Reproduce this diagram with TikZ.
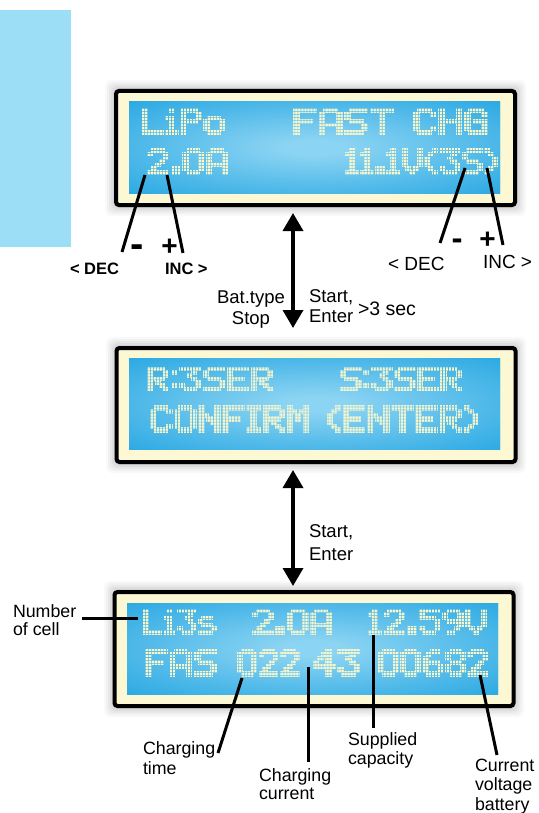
\documentclass[tikz,border=0pt]{standalone}
\usepackage{fontspec}
\setmainfont{Liberation Sans}
\usepackage{graphicx}
\usetikzlibrary{arrows.meta}
\definecolor{sidebar}{RGB}{155,222,246}
\definecolor{cream}{RGB}{253,248,212}
\definecolor{lcdedge}{RGB}{14,156,222}
\definecolor{lcdmid}{RGB}{140,212,243}
\definecolor{lcdpixc}{RGB}{250,247,204}
\pgfdeclareradialshading{lcdshade}{\pgfpoint{0bp}{0bp}}{color(0bp)=(lcdmid); color(4bp)=(lcdmid); color(22bp)=(lcdmid!55!lcdedge); color(46bp)=(lcdedge); color(80bp)=(lcdedge)}
% ---------- dot-matrix glyph machinery ----------
\newcount\lcdx
\newcount\lcdc
\newcount\lcdtot
\def\lcdscan#1{%
  \ifx#1\relax
  \else
    \if1#1\fill[lcdpix] ({\the\lcdx+\the\lcdc-0.3},{\lcdy-0.2}) rectangle ++(1.6,1.4);\fi
    \advance\lcdc by 1
    \expandafter\lcdscan
  \fi}
\def\lcdrow#1#2{\def\lcdy{#1}\lcdc=0 \lcdscan#2\relax}
\def\lcdrows#1#2#3#4#5#6#7{\lcdrow{0}{#1}\lcdrow{1}{#2}\lcdrow{2}{#3}\lcdrow{3}{#4}\lcdrow{4}{#5}\lcdrow{5}{#6}\lcdrow{6}{#7}}
\def\lcddef#1#2#3#4#5#6#7#8#9{%
  \expandafter\def\csname lcdW-#1\endcsname{#2}%
  \expandafter\def\csname lcdG-#1\endcsname{\lcdrows{#3}{#4}{#5}{#6}{#7}{#8}{#9}}}
\lcddef{L}{5}{10000}{10000}{10000}{10000}{10000}{10000}{11111}
\lcddef{i}{3}{010}{000}{110}{010}{010}{010}{111}
\lcddef{P}{5}{11110}{10001}{10001}{11110}{10000}{10000}{10000}
\lcddef{o}{5}{00000}{00000}{01110}{10001}{10001}{10001}{01110}
\lcddef{F}{5}{11111}{10000}{10000}{11110}{10000}{10000}{10000}
\lcddef{A}{5}{01110}{10001}{10001}{10001}{11111}{10001}{10001}
\lcddef{S}{5}{01111}{10000}{10000}{01110}{00001}{00001}{11110}
\lcddef{T}{5}{11111}{00100}{00100}{00100}{00100}{00100}{00100}
\lcddef{C}{5}{01110}{10001}{10000}{10000}{10000}{10001}{01110}
\lcddef{H}{5}{10001}{10001}{10001}{11111}{10001}{10001}{10001}
\lcddef{G}{5}{01110}{10001}{10000}{10111}{10001}{10001}{01111}
\lcddef{2}{5}{01110}{10001}{00001}{00010}{00100}{01000}{11111}
\lcddef{dot}{2}{00}{00}{00}{00}{00}{11}{11}
\lcddef{0}{5}{01110}{10001}{10001}{10001}{10001}{10001}{01110}
\lcddef{1}{3}{010}{110}{010}{010}{010}{010}{111}
\lcddef{V}{5}{10001}{10001}{10001}{10001}{10001}{01010}{00100}
\lcddef{lp}{3}{001}{010}{100}{100}{100}{010}{001}
\lcddef{rp}{3}{100}{010}{001}{001}{001}{010}{100}
\lcddef{3}{5}{11111}{00010}{00100}{00010}{00001}{10001}{01110}
\lcddef{R}{5}{11110}{10001}{10001}{11110}{10100}{10010}{10001}
\lcddef{col}{1}{0}{1}{0}{0}{0}{1}{0}
\lcddef{E}{5}{11111}{10000}{10000}{11110}{10000}{10000}{11111}
\lcddef{N}{5}{10001}{10001}{11001}{10101}{10011}{10001}{10001}
\lcddef{O}{5}{01110}{10001}{10001}{10001}{10001}{10001}{01110}
\lcddef{I}{3}{111}{010}{010}{010}{010}{010}{111}
\lcddef{M}{5}{10001}{11011}{10101}{10101}{10001}{10001}{10001}
\lcddef{s}{5}{00000}{00000}{01110}{10000}{01110}{00001}{11110}
\lcddef{5}{5}{11111}{10000}{11110}{00001}{00001}{10001}{01110}
\lcddef{9}{5}{01110}{10001}{10001}{01111}{00001}{00010}{01100}
\lcddef{4}{5}{00010}{00110}{01010}{10010}{11111}{00010}{00010}
\lcddef{6}{5}{00110}{01000}{10000}{11110}{10001}{10001}{01110}
\lcddef{8}{5}{01110}{10001}{10001}{01110}{10001}{10001}{01110}
\lcddef{sp}{3}{000}{000}{000}{000}{000}{000}{000}
% \lcdtext{left}{top}{width}{height}{glyph list}
\newcommand\lcdtext[5]{%
  \global\lcdtot=0
  \foreach \ch in {#5}{\global\advance\lcdtot by \csname lcdW-\ch\endcsname\relax\global\advance\lcdtot by 1\relax}%
  \global\advance\lcdtot by -1\relax
  \pgfmathsetmacro\lcddx{(#3-2.4)/\the\lcdtot}%
  \pgfmathsetmacro\lcddy{(#4-2.4)/7}%
  \begin{scope}[shift={(#1+1.2,#2+1.2)},x={(\lcddx pt,0pt)},y={(0pt,-\lcddy pt)}]
    \global\lcdx=0
    \foreach \ch in {#5}{\csname lcdG-\ch\endcsname\global\advance\lcdx by \csname lcdW-\ch\endcsname\relax\global\advance\lcdx by 1\relax}%
  \end{scope}}
% dot grid drawn with the panel's own shading: invisible on the panel, cuts the glyphs into dots
\newcommand\lcdgrid[4]{%
  \pgfmathsetmacro\gw{#3-#1}\pgfmathsetmacro\gh{#4-#2}%
  \pgfmathtruncatemacro\gnx{\gw/3}\pgfmathtruncatemacro\gny{\gh/3}%
  \pgfmathsetmacro\gsx{(\gw-0.6)/\gnx}\pgfmathsetmacro\gsy{(\gh-0.6)/\gny}%
  \shade[shading=lcdshade] \foreach \k in {0,...,\gnx}{({#1+\k*\gsx},#2) rectangle ++(0.6,\gh)}
     \foreach \k in {0,...,\gny}{(#1,{#2+\k*\gsy}) rectangle ++(\gw,0.6)};}
\begin{document}
\begin{tikzpicture}[x=1pt,y=-1pt,
  lcdframe/.style={draw=black,line width=4pt,fill=cream,rounded corners=3pt,inner sep=0pt,outer sep=0pt,minimum width=399pt,minimum height=114pt},
  lcdpanel/.style={shading=lcdshade,draw=none,inner sep=0pt,outer sep=0pt,minimum width=371pt,minimum height=91pt},
  lcdpix/.style={fill=lcdpixc},
  ptr/.style={line width=3pt},
  dblarrow/.style={line width=3.5pt,{Triangle[width=20pt,length=18pt]}-{Triangle[width=20pt,length=18pt]}},
  lbl/.style={inner sep=0pt,outer sep=0pt,align=left,anchor=north west},
  sgl/.style={inner sep=0pt,outer sep=0pt,anchor=base west},
  sign/.style={inner sep=0pt,outer sep=0pt,anchor=base},
]
\useasboundingbox (0,0) rectangle (538,813);
\fill[white] (0,0) rectangle (538,813);
% side bar
\fill[sidebar] (0,10) rectangle (71,247);
% soft shadows
\foreach \e/\o in {9/0.025,7/0.03,5/0.035,3/0.04,1/0.05}{
  \fill[black,opacity=\o,rounded corners=6pt] ({114-\e},{89-\e}) rectangle ({517+\e},{207+\e});
  \fill[black,opacity=\o,rounded corners=6pt] ({115-\e},{346-\e}) rectangle ({517+\e},{464+\e});
  \fill[black,opacity=\o,rounded corners=6pt] ({113-\e},{590-\e}) rectangle ({515+\e},{708+\e});
}
% displays
\node[lcdframe] (d1) at (315.5,148) {};
\node[lcdpanel] (p1) at (314.5,147.5) {};
\node[lcdframe] (d2) at (316,405) {};
\node[lcdpanel] (p2) at (314.5,404) {};
\node[lcdframe] (d3) at (314,649) {};
\node[lcdpanel] (p3) at (312.5,648.5) {};
% display 1 text
\lcdtext{142}{108}{83}{27}{L,i,P,o}
\lcdtext{293}{108}{195}{27}{F,A,S,T,sp,C,H,G}
\lcdtext{147}{148}{81}{27}{2,dot,0,A}
\lcdtext{345}{148}{153}{27}{1,1,dot,1,V,lp,3,S,rp}
% display 2 text
\lcdtext{147}{366}{126}{26}{R,col,3,S,E,R}
\lcdtext{340}{366}{122}{26}{S,col,3,S,E,R}
\lcdtext{150}{405}{328}{28}{C,O,N,F,I,R,M,sp,lp,E,N,T,E,R,rp}
% display 3 text
\lcdtext{143}{608}{74}{27}{L,i,3,s}
\lcdtext{252}{608}{80}{27}{2,dot,0,A}
\lcdtext{368}{608}{119}{27}{1,2,dot,5,9,V}
\lcdtext{145}{648}{72}{29}{F,A,S}
\lcdtext{237}{648}{63}{29}{0,2,2}
\lcdtext{313}{648}{47}{29}{4,3}
\lcdtext{378}{648}{110}{29}{0,0,6,8,2}
% dot grids
\lcdgrid{129}{102}{500}{193}
\lcdgrid{129}{358.5}{500}{449.5}
\lcdgrid{127}{603}{498}{694}
% arrows between displays
\coordinate (a1t) at (293,213);
\coordinate (a1b) at (293,328);
\coordinate (a2t) at (293,470);
\coordinate (a2b) at (293,586);
\draw[dblarrow] (a1t) -- (a1b);
\draw[dblarrow] (a2t) -- (a2b);
% arrow labels
\node[lbl,align=center,anchor=north,font=\fontsize{18.5}{21}\selectfont] (battype) at (251,290.7) {Bat.type\\Stop};
\node[lbl,font=\fontsize{18.5}{20.5}\selectfont] (startA) at (309,289.3) {Start,\\Enter};
\node[sgl,font=\fontsize{19.5}{20}\selectfont] (sec) at (358,315) {>3 sec};
\node[lbl,font=\fontsize{18.5}{23}\selectfont] (startB) at (309,525) {Start,\\Enter};
% DEC / INC labels
\node[sgl,font=\bfseries\fontsize{16.5}{18}\selectfont] (decL) at (70,274.5) {< DEC};
\node[sgl,font=\bfseries\fontsize{16.5}{18}\selectfont] (incL) at (165,274.5) {INC >};
\node[sgl,font=\fontsize{19}{20}\selectfont] (decR) at (388,270) {< DEC};
\node[sgl,font=\fontsize{19}{20}\selectfont] (incR) at (483,268) {INC >};
\node[sign,font=\bfseries\fontsize{40}{40}\selectfont] (minusL) at (137.5,257.7) {-};
\node[sign,font=\bfseries\fontsize{28}{28}\selectfont] (plusL) at (169.5,255.4) {+};
\node[sign,font=\bfseries\fontsize{33}{33}\selectfont] (minusR) at (457,249.7) {-};
\node[sign,font=\bfseries\fontsize{28}{28}\selectfont] (plusR) at (487.5,248.4) {+};
\coordinate (mLt) at (145,175); \coordinate (mLb) at (122,252);
\coordinate (pLt) at (167,175); \coordinate (pLb) at (183,253);
\coordinate (mRt) at (465,168); \coordinate (mRb) at (440,243);
\coordinate (pRt) at (487,168); \coordinate (pRb) at (503,245);
\draw[ptr] (mLt) -- (mLb);
\draw[ptr] (pLt) -- (pLb);
\draw[ptr] (mRt) -- (mRb);
\draw[ptr] (pRt) -- (pRb);
% display 3 labels
\node[lbl,font=\fontsize{17.8}{18}\selectfont] (numcell) at (13,605) {Number\\of cell};
\node[lbl,font=\fontsize{17.8}{19.5}\selectfont] (chtime) at (143,741.7) {Charging\\time};
\node[lbl,font=\fontsize{17.8}{18}\selectfont] (chcur) at (259,768.3) {Charging\\current};
\node[lbl,font=\fontsize{17.8}{18.5}\selectfont] (supcap) at (348,732.7) {Supplied\\capacity};
\node[lbl,font=\fontsize{17.8}{19.2}\selectfont] (curvolt) at (475,759.3) {Current\\voltage\\battery};
\coordinate (nA) at (82,618); \coordinate (nB) at (138,618);
\coordinate (tA) at (242,678); \coordinate (tB) at (218,753);
\coordinate (cA) at (308,667); \coordinate (cB) at (308,762);
\coordinate (sA) at (373,635); \coordinate (sB) at (373,728);
\coordinate (vA) at (480,675); \coordinate (vB) at (497,755);
\draw[ptr] (nA) -- (nB);
\draw[ptr] (tA) -- (tB);
\draw[ptr] (cA) -- (cB);
\draw[ptr] (sA) -- (sB);
\draw[ptr] (vA) -- (vB);
\end{tikzpicture}
\end{document}
